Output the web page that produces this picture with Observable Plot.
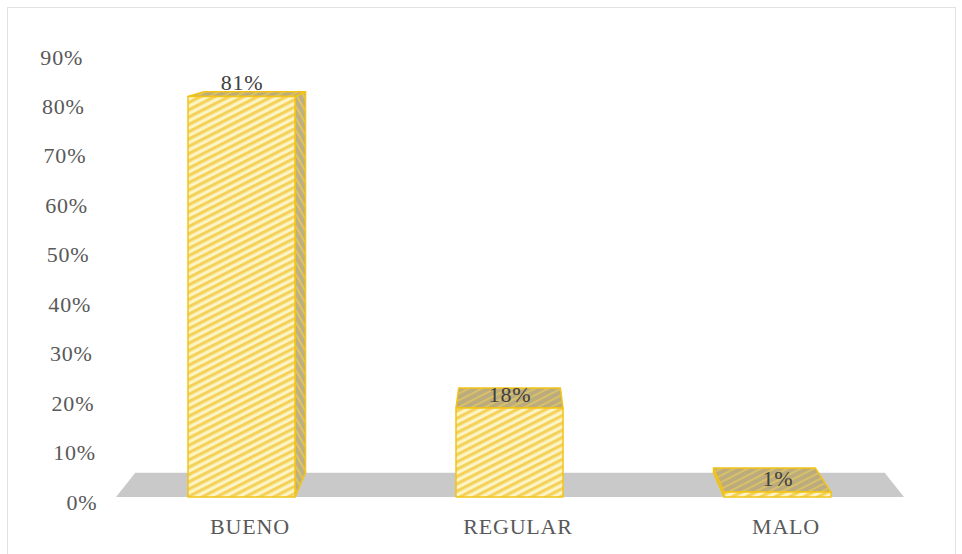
<!DOCTYPE html>
<html>
<head>
<meta charset="utf-8">
<script src="https://cdn.jsdelivr.net/npm/d3@7"></script>
<script src="https://cdn.jsdelivr.net/npm/@observablehq/plot@0.6"></script>
<style>
  html, body { margin: 0; padding: 0; background: #ffffff; }
  #wrap { position: relative; width: 962px; height: 554px; overflow: hidden; }
  #frame { position: absolute; left: 7px; top: 7px; width: 949px; height: 600px; border: 1.5px solid #e2e2e2; box-sizing: border-box; }
  #chart { position: absolute; left: 0; top: 0; }
  #chart text { letter-spacing: 0.8px; }
</style>
</head>
<body>
<div id="wrap"><div id="frame"></div><div id="chart"></div></div>
<script>
const categories = ["BUENO", "REGULAR", "MALO"];
const values = [81, 18, 1];
const yTicks = [0, 10, 20, 30, 40, 50, 60, 70, 80, 90];

const data = categories.map((c, i) => ({category: c, value: values[i]}));

const depth = 0.049;       // perspective depth factor
const serif = "'Liberation Serif', 'Times New Roman', serif";

function box3d(index, scales, channels, dims) {
  const x = scales.x, y = scales.y;
  const [r0, r1] = x.range();
  const vx = (r0 + r1) / 2, vy = 0;
  const back = ([px, py]) => [px + depth * (vx - px), py + depth * (vy - py)];
  const g = d3.create("svg:g");
  const defs = g.append("defs");
  const pat = (id, bg, fg, angle, size, w) => {
    const p = defs.append("pattern").attr("id", id).attr("patternUnits", "userSpaceOnUse")
      .attr("width", 20).attr("height", size).attr("patternTransform", `rotate(${angle})`);
    p.append("rect").attr("width", 20).attr("height", size).attr("fill", bg);
    p.append("rect").attr("width", 20).attr("height", w).attr("fill", fg);
  };
  pat("frontPat", "#fdf4c6", "#f4d25a", -27, 6.5, 3.2);
  pat("topPat", "#bcab7c", "#d8c06a", -27, 6, 2.0);
  pat("sidePat", "#bfb084", "#dcc466", 60, 6, 2.0);
  const poly = (pts, fill) => g.append("polygon")
    .attr("points", pts.map(p => p.join(",")).join(" "))
    .attr("fill", fill).attr("stroke", "#f2c416").attr("stroke-width", 1.5)
    .attr("stroke-linejoin", "round");
  // floor
  const y0 = y(0);
  const fl = [r0, y0], fr = [r1, y0];
  g.append("polygon").attr("points", [fl, fr, back(fr), back(fl)].map(p => p.join(",")).join(" "))
    .attr("fill", "#c9c9c9");
  // bars
  data.forEach(d => {
    const x1 = x(d.category), x2 = x1 + x.bandwidth();
    const yt = y(d.value);
    const ftl = [x1, yt], ftr = [x2, yt], fbl = [x1, y0], fbr = [x2, y0];
    if (x2 < vx) poly([ftr, fbr, back(fbr), back(ftr)], "url(#sidePat)");
    if (x1 > vx) poly([ftl, fbl, back(fbl), back(ftl)], "url(#sidePat)");
    poly([ftl, ftr, back(ftr), back(ftl)], "url(#topPat)");
    poly([ftl, ftr, fbr, fbl], "url(#frontPat)");
  });
  return g.node();
}

const tickMarks = yTicks.map(t => Plot.text([t], {
  y: d => d,
  text: d => d + "%",
  frameAnchor: "left",
  textAnchor: "end",
  dx: -19 - 0.16 * t,
  dy: 5,
  fill: "#595959",
  fontSize: 22,
  fontFamily: serif
}));

const chart = Plot.plot({
  width: 962,
  height: 554,
  marginLeft: 116,
  marginRight: 58,
  marginTop: 52,
  marginBottom: 57,
  style: {background: "transparent", overflow: "visible"},
  x: {type: "band", domain: categories, paddingInner: 0.6, paddingOuter: 0.27, axis: null},
  y: {domain: [0, 90], axis: null},
  marks: [
    box3d,
    ...tickMarks,
    Plot.text(data, {
      x: "category", y: "value", text: d => d.value + "%",
      dy: -14, fill: "#404040", fontSize: 22, fontFamily: serif
    }),
    Plot.text(data, {
      x: "category", y: () => 0, text: "category",
      dx: 8, dy: 29, fill: "#595959", fontSize: 22, fontFamily: serif
    })
  ]
});
document.getElementById("chart").appendChild(chart);
</script>
</body>
</html>
